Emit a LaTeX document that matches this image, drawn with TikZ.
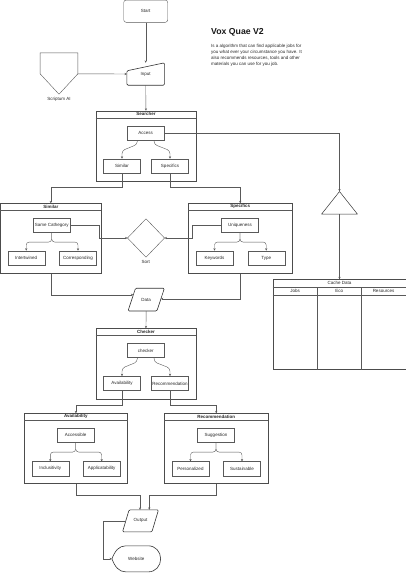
\documentclass[tikz,border=0pt]{standalone}
\usepackage{fontspec}
\setmainfont{Liberation Sans}
\usetikzlibrary{arrows.meta,calc}
\begin{document}
\begin{tikzpicture}[x=1pt,y=-1pt,
  ln/.style={draw=black!65, line width=0.4pt},
  arr/.style={ln, -{Stealth[length=2.4pt,width=2.2pt]}},
  shp/.style={draw=black!80, line width=0.6pt, line join=round},
  small/.style={font=\fontsize{4.5}{5.4}\selectfont, text=black!85},
  txt/.style={small, inner sep=0pt},
  box/.style={draw=black!65, line width=0.4pt, minimum width=37pt, minimum height=14.3pt, inner sep=0pt, small},
  ghost/.style={inner sep=0pt, small},
  cont/.style={draw=black!70, line width=0.5pt, anchor=north west, inner sep=0pt},
  ctitle/.style={inner sep=0pt, font=\bfseries\fontsize{4.5}{5.4}\selectfont, text=black!85}
]
\useasboundingbox (0,0) rectangle (406,573);

% ---------- start / input ----------
\node[draw=black!65, line width=0.4pt, rounded corners=2.5pt, minimum width=44pt, minimum height=22.3pt, inner sep=0pt, small] (start) at (145.7,11.2) {Start};

\node[ghost, minimum width=37.3pt, minimum height=22pt] (input) at (145.7,74) {Input};
\draw[shp, rounded corners=1.2pt] (input.south west) -- ($(input.north west)+(0,8)$) -- (input.north east) -- (input.south east) -- cycle;

\node[ghost, minimum width=37.4pt, minimum height=41pt] (scr) at (59,73.5) {};
\draw[draw=black!65, line width=0.4pt] (scr.north west) -- (scr.north east) -- ($(scr.north east)+(0,21)$) -- (scr.south) -- ($(scr.north west)+(0,21)$) -- cycle;
\node[txt] (scrT) at (59,99.5) {Scriptum AI};

% ---------- title text ----------
\node[inner sep=0pt, anchor=base west, font=\bfseries\fontsize{8.7}{10}\selectfont, text=black!90] (title) at (211,34) {Vox Quae V2};
\node[inner sep=0pt, anchor=north west, align=left, font=\fontsize{4.5}{6.3}\selectfont, text=black!85] (para) at (211,43.6)
  {Is a algorithm that can find applicable jobs for\\you what ever your circumstance you have. It\\also recommends resources, tools and other\\materials you can use for you job.};

% ---------- Searcher ----------
\node[cont, minimum width=100pt, minimum height=70.3pt] (searcher) at (95.7,110.7) {};
\draw[ln] ($(searcher.north west)+(0,7)$) -- ($(searcher.north east)+(0,7)$);
\node[ctitle] (searcherT) at ($(searcher.north)+(0,3.6)$) {Searcher};
\node[box] (access) at (145.7,133) {Access};
\node[box] (similarS) at (122,166) {Similar};
\node[box] (specificsS) at (170,166) {Specifics};

% ---------- triangle & cache ----------
\node[ghost, minimum width=35.6pt, minimum height=22.3pt] (tri) at (339.5,202.85) {};
\draw[draw=black!80, line width=0.5pt, line join=round] (tri.north) -- (tri.south east) -- (tri.south west) -- cycle;

\node[cont, minimum width=133pt, minimum height=90pt] (cache) at (272.7,279.3) {};
\draw[ln] ($(cache.north west)+(0,8)$) -- ($(cache.north east)+(0,8)$);
\draw[ln] ($(cache.north west)+(0,15.7)$) -- ($(cache.north east)+(0,15.7)$);
\draw[ln] ($(cache.north west)+(44.6,8)$) -- ($(cache.south west)+(44.6,0)$);
\draw[ln] ($(cache.north west)+(88.6,8)$) -- ($(cache.south west)+(88.6,0)$);
\node[txt] (cacheT) at ($(cache.north)+(0,4)$) {Cache Data};
\node[txt] (jobs) at ($(cache.north west)+(22.3,11.9)$) {Jobs};
\node[txt] (eco) at ($(cache.north west)+(66.6,11.9)$) {Eco};
\node[txt] (res) at ($(cache.north west)+(110.8,11.9)$) {Resources};

% ---------- Similar ----------
\node[cont, minimum width=100.3pt, minimum height=70pt] (simC) at (0.4,203.3) {};
\draw[ln] ($(simC.north west)+(0,6.8)$) -- ($(simC.north east)+(0,6.8)$);
\node[ctitle] (simT) at ($(simC.north)+(0,3.5)$) {Similar};
\node[box] (samecat) at (51.7,225.3) {Same Cathegory};
\node[box] (intertw) at (26.2,258) {Intertwined};
\node[box] (corresp) at (78,258) {Corresponding};

% ---------- Specifics ----------
\node[cont, minimum width=103.4pt, minimum height=70pt] (specC) at (188.3,203.3) {};
\draw[ln] ($(specC.north west)+(0,6.8)$) -- ($(specC.north east)+(0,6.8)$);
\node[ctitle] (specT) at ($(specC.north)+(0,3.5)$) {Specifics};
\node[box] (uniq) at (240,225.3) {Uniqueness};
\node[box] (keyw) at (214.5,258) {Keywords};
\node[box] (typeb) at (266.2,258) {Type};

% ---------- Sort ----------
\node[ghost, minimum width=36.6pt, minimum height=38pt] (sort) at (146,238) {};
\draw[draw=black!65, line width=0.4pt] (sort.north) -- (sort.east) -- (sort.south) -- (sort.west) -- cycle;
\node[txt] (sortT) at (145.7,261.8) {Sort};

% ---------- Data ----------
\node[ghost, minimum width=36pt, minimum height=22.4pt] (data) at (146.2,299.6) {Data};
\draw[shp, rounded corners=1.2pt] ($(data.north west)+(7.5,0)$) -- (data.north east) -- ($(data.south east)+(-7.5,0)$) -- (data.south west) -- cycle;

% ---------- Checker ----------
\node[cont, minimum width=100pt, minimum height=70.7pt] (checkC) at (95.7,328.3) {};
\draw[ln] ($(checkC.north west)+(0,6.8)$) -- ($(checkC.north east)+(0,6.8)$);
\node[ctitle] (checkT) at ($(checkC.north)+(0,3.5)$) {Checker};
\node[box] (checker) at (145.7,350.5) {checker};
\node[box] (availB) at (122,383.5) {Availability};
\node[box] (recB) at (170,383.5) {Recommendation};

% ---------- Availability ----------
\node[cont, minimum width=103.3pt, minimum height=70pt] (availC) at (24,413.3) {};
\draw[ln] ($(availC.north west)+(0,6.8)$) -- ($(availC.north east)+(0,6.8)$);
\node[ctitle] (availT) at ($(availC.north)+(0,3.5)$) {Availability};
\node[box] (accessible) at (75.7,435.3) {Accessible};
\node[box] (inclus) at (50.3,468.8) {Inclusitivity};
\node[box] (applic) at (101.7,468.8) {Applicatability};

% ---------- Recommendation ----------
\node[cont, minimum width=103.4pt, minimum height=70pt] (recC) at (164.3,413.3) {};
\draw[ln] ($(recC.north west)+(0,6.8)$) -- ($(recC.north east)+(0,6.8)$);
\node[ctitle] (recT) at ($(recC.north)+(0,3.5)$) {Recommendation};
\node[box] (suggest) at (216,435.3) {Suggestion};
\node[box] (personal) at (190.5,468.8) {Personalized};
\node[box] (sustain) at (242,468.8) {Sustainable};

% ---------- Output / Website ----------
\node[ghost, minimum width=35.6pt, minimum height=21.7pt] (output) at (140.5,520.85) {Output};
\draw[shp, rounded corners=1.2pt] ($(output.north west)+(6.6,0)$) -- (output.north east) -- ($(output.south east)+(-6.6,0)$) -- (output.south west) -- cycle;

\node[ghost, minimum width=48.3pt, minimum height=25.7pt] (web) at (136.3,558.85) {Website};
\draw[shp]
  (web.west) .. controls ($(web.west)+(3,-8)$) and ($(web.north west)+(7,0)$) .. ($(web.north west)+(14,0)$)
  -- ($(web.north east)+(-12.5,0)$)
  .. controls ($(web.north east)+(-5,0)$) and ($(web.east)+(0,-7)$) .. (web.east)
  .. controls ($(web.east)+(0,7)$) and ($(web.south east)+(-5,0)$) .. ($(web.south east)+(-12.5,0)$)
  -- ($(web.south west)+(14,0)$)
  .. controls ($(web.south west)+(7,0)$) and ($(web.west)+(3,8)$) .. (web.west) -- cycle;

% ---------- connectors ----------
\draw[arr] (start.south) -- (input.north);
\draw[arr] ($(scr.north east)+(0,21)$) -- (input.west);
\draw[arr] (input.south) -- (searcher.north);

\draw[arr, rounded corners=3pt] ($(access.south)+(-8.4,0)$) -- ++(0,4) -- ($(similarS.north)+(0,-8)$) -- (similarS.north);
\draw[arr, rounded corners=3pt] ($(access.south)+(8.4,0)$) -- ++(0,4) -- ($(specificsS.north)+(0,-8)$) -- (specificsS.north);

\draw[arr] (access.east) -| (tri.north);
\draw[arr] (tri.south) -- (tri.south |- cache.north);

\draw[arr] (similarS.south) |- ($(simC.north)+(0,-16)$) -- (simC.north);
\draw[arr] (specificsS.south) |- ($(specC.north)+(0,-16)$) -- (specC.north);

\draw[arr, rounded corners=3pt] (samecat.south) -- ++(0,9.4) -| (intertw.north);
\draw[arr, rounded corners=3pt] (samecat.south) -- ++(0,9.4) -| (corresp.north);
\draw[arr, rounded corners=3pt] (uniq.south) -- ++(0,9.4) -| (keyw.north);
\draw[arr, rounded corners=3pt] (uniq.south) -- ++(0,9.4) -| (typeb.north);

\draw[arr] (samecat.east) -- ++(28.3,0) |- (sort.west);
\draw[arr] (uniq.west) -- ++(-29,0) |- (sort.east);

\draw[arr] (simC.south) |- ($(data.north west)+(5.3,6.6)$);
\draw[arr] (specC.south) |- ($(data.north east)+(-3.55,10.6)$);
\draw[arr] (data.south) -- (checkC.north);

\draw[arr, rounded corners=3pt] ($(checker.south)+(-8.4,0)$) -- ++(0,4) -- ($(availB.north)+(0,-8)$) -- (availB.north);
\draw[arr, rounded corners=3pt] ($(checker.south)+(8.4,0)$) -- ++(0,4) -- ($(recB.north)+(0,-8)$) -- (recB.north);

\draw[arr] (availB.south) |- ($(availC.north)+(0,-8)$) -- (availC.north);
\draw[arr] (recB.south) |- ($(recC.north)+(0,-8)$) -- (recC.north);

\draw[arr, rounded corners=3pt] (accessible.south) -- ++(0,9.4) -| (inclus.north);
\draw[arr, rounded corners=3pt] (accessible.south) -- ++(0,9.4) -| (applic.north);
\draw[arr, rounded corners=3pt] (suggest.south) -- ++(0,9.4) -| (personal.north);
\draw[arr, rounded corners=3pt] (suggest.south) -- ++(0,9.4) -| (sustain.north);

\draw[arr] (availC.south) -- ++(0,11.7) -| ($(output.north)+(-0.5,0)$);
\draw[arr] (recC.south) -- ++(0,11.7) -| ($(output.north)+(8.8,0)$);

\draw[arr] ($(output.west)+(3.3,0)$) -- ++(-22.7,0) |- (web.west);
\end{tikzpicture}
\end{document}
